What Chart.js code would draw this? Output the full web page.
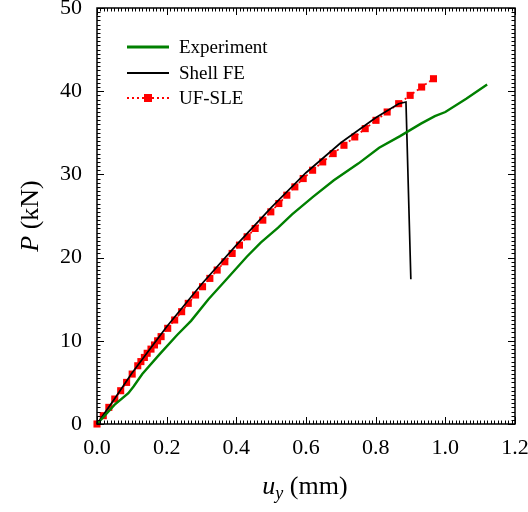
<!DOCTYPE html>
<html>
<head>
<meta charset="utf-8">
<script src="https://cdn.jsdelivr.net/npm/chart.js@4"></script>
<style>
  body { margin: 0; background: #fff; }
  #wrap { width: 528px; height: 512px; }
</style>
</head>
<body>
<div id="wrap"><canvas id="canvas"></canvas></div>
<script>
// values
const expX = [0, 0.02, 0.05, 0.09, 0.105, 0.13, 0.18, 0.23, 0.27, 0.32, 0.37, 0.43, 0.47, 0.52, 0.56, 0.62, 0.68, 0.75, 0.81, 0.87, 0.93, 0.97, 1.0, 1.06, 1.12];
const expY = [0, 0.9, 2.3, 3.7, 4.5, 6.0, 8.4, 10.7, 12.4, 15.0, 17.3, 20.1, 21.8, 23.6, 25.2, 27.3, 29.3, 31.3, 33.2, 34.6, 36.1, 37.0, 37.5, 39.1, 40.8];

const feX = [0, 0.05, 0.1, 0.2, 0.3, 0.4, 0.5, 0.6, 0.7, 0.8, 0.866, 0.887, 0.901];
const feY = [0, 3.0, 6.1, 11.7, 16.8, 21.5, 26.0, 30.2, 33.8, 36.8, 38.5, 38.7, 17.4];

const sleX = [0, 0.018, 0.034, 0.051, 0.068, 0.085, 0.101, 0.117, 0.126, 0.136, 0.144, 0.155, 0.165, 0.174, 0.184, 0.203, 0.223, 0.243, 0.262, 0.283, 0.303, 0.324, 0.345, 0.367, 0.388, 0.409, 0.431, 0.454, 0.476, 0.499, 0.522, 0.545, 0.568, 0.592, 0.619, 0.648, 0.678, 0.709, 0.740, 0.770, 0.801, 0.833, 0.866, 0.899, 0.932, 0.966];
const sleY = [0, 1, 2, 3, 4, 5, 6, 7, 7.5, 8, 8.5, 9, 9.5, 10, 10.5, 11.5, 12.5, 13.5, 14.5, 15.5, 16.5, 17.5, 18.5, 19.5, 20.5, 21.5, 22.5, 23.5, 24.5, 25.5, 26.5, 27.5, 28.5, 29.5, 30.5, 31.5, 32.5, 33.5, 34.5, 35.5, 36.5, 37.5, 38.5, 39.5, 40.5, 41.5];

const xTickLabels = ['0.0', '0.2', '0.4', '0.6', '0.8', '1.0', '1.2'];
const yTickLabels = ['0', '10', '20', '30', '40', '50'];

const FONT = '"Liberation Serif", "DejaVu Serif", serif';

function pts(xs, ys) {
  return xs.map((x, i) => ({ x: x, y: ys[i] }));
}

// box, inward ticks, axis titles and legend
const frame = {
  id: 'frame',
  afterDraw(chart) {
    const c = chart.ctx;
    const a = chart.chartArea;
    const sx = chart.scales.x, sy = chart.scales.y;
    c.save();
    c.strokeStyle = '#000';
    c.lineWidth = 1;
    c.beginPath();
    for (let i = 0; i <= 120; i++) {
      const px = Math.round(sx.getPixelForValue(i / 100)) + 0.5;
      const len = i % 20 == 0 ? 7 : 3.5;
      c.moveTo(px, a.bottom); c.lineTo(px, a.bottom - len);
      c.moveTo(px, a.top); c.lineTo(px, a.top + len);
    }
    for (let i = 0; i <= 100; i++) {
      const py = Math.round(sy.getPixelForValue(i / 2)) + 0.5;
      const len = i % 20 == 0 ? 7 : 3.5;
      c.moveTo(a.left, py); c.lineTo(a.left + len, py);
      c.moveTo(a.right, py); c.lineTo(a.right - len, py);
    }
    c.stroke();
    c.lineWidth = 1.5;
    c.strokeRect(a.left, a.top, a.right - a.left, a.bottom - a.top);

    // axis titles
    c.fillStyle = '#000';
    c.textBaseline = 'alphabetic';
    c.font = 'italic 26px ' + FONT;
    const wu = c.measureText('u').width;
    c.font = 'italic 18px ' + FONT;
    const wy = c.measureText('y').width;
    c.font = '26px ' + FONT;
    const wmm = c.measureText(' (mm)').width;
    let x0 = 305 - (wu + wy + wmm) / 2;
    c.font = 'italic 26px ' + FONT;
    c.fillText('u', x0, 494);
    c.font = 'italic 18px ' + FONT;
    c.fillText('y', x0 + wu, 499);
    c.font = '26px ' + FONT;
    c.fillText(' (mm)', x0 + wu + wy, 494);

    c.save();
    c.translate(38, 216);
    c.rotate(-Math.PI / 2);
    c.font = 'italic 26px ' + FONT;
    const wp = c.measureText('P').width;
    c.font = '26px ' + FONT;
    const wkn = c.measureText(' (kN)').width;
    x0 = -(wp + wkn) / 2;
    c.font = 'italic 26px ' + FONT;
    c.fillText('P', x0, 0);
    c.font = '26px ' + FONT;
    c.fillText(' (kN)', x0 + wp, 0);
    c.restore();

    // legend
    const lx = a.left + 30, tx = a.left + 82;
    const rows = [39, 65, 90];
    c.font = '19px ' + FONT;
    c.textBaseline = 'middle';
    const ds = chart.data.datasets;
    ds.forEach((d, k) => {
      const yy = a.top + rows[k];
      c.strokeStyle = d.borderColor;
      c.lineWidth = d.borderWidth + 0.4;
      c.setLineDash(d.borderDash || []);
      c.beginPath();
      c.moveTo(lx, yy); c.lineTo(lx + 42, yy);
      c.stroke();
      c.setLineDash([]);
      if (d.pointRadius > 0) {
        c.fillStyle = d.pointBackgroundColor;
        c.fillRect(lx + 21 - 4, yy - 4, 8, 8);
      }
      c.fillStyle = '#000';
      c.fillText(d.label, tx, yy + 1);
    });
    c.restore();
  }
};

function noPad(s) {
  s.paddingTop = 0; s.paddingBottom = 0;
  s.paddingLeft = 0; s.paddingRight = 0;
}

new Chart(document.getElementById('canvas'), {
  type: 'scatter',
  data: {
    datasets: [{
      label: 'Experiment',
      data: pts(expX, expY),
      showLine: true,
      borderColor: '#008000',
      borderWidth: 2.4,
      pointRadius: 0,
      clip: false
    }, {
      label: 'Shell FE',
      data: pts(feX, feY),
      showLine: true,
      borderColor: '#000000',
      borderWidth: 1.7,
      pointRadius: 0,
      clip: false
    }, {
      label: 'UF-SLE',
      data: pts(sleX, sleY),
      showLine: true,
      borderColor: '#ff0000',
      borderWidth: 1.7,
      borderDash: [2, 3],
      pointStyle: 'rect',
      pointRadius: 5,
      pointBackgroundColor: '#ff0000',
      pointBorderWidth: 0,
      clip: false
    }]
  },
  options: {
    responsive: true,
    maintainAspectRatio: false,
    animation: false,
    layout: { padding: { top: 8, right: 13, left: 0, bottom: 0 } },
    plugins: { legend: { display: false }, tooltip: { enabled: false } },
    scales: {
      x: {
        type: 'linear',
        min: 0, max: 1.2,
        grid: { display: false, drawTicks: false },
        border: { display: false },
        afterFit: s => { s.height = 88; noPad(s); },
        ticks: {
          stepSize: 0.2,
          padding: 11,
          color: '#000',
          font: { family: FONT, size: 22 },
          maxRotation: 0,
          callback: (v, i) => xTickLabels[i]
        }
      },
      y: {
        type: 'linear',
        min: 0, max: 50,
        grid: { display: false, drawTicks: false },
        border: { display: false },
        afterFit: s => { s.width = 97; noPad(s); },
        ticks: {
          stepSize: 10,
          padding: 15,
          color: '#000',
          font: { family: FONT, size: 22 },
          callback: (v, i) => yTickLabels[i]
        }
      }
    }
  },
  plugins: [frame]
});
</script>
</body>
</html>
